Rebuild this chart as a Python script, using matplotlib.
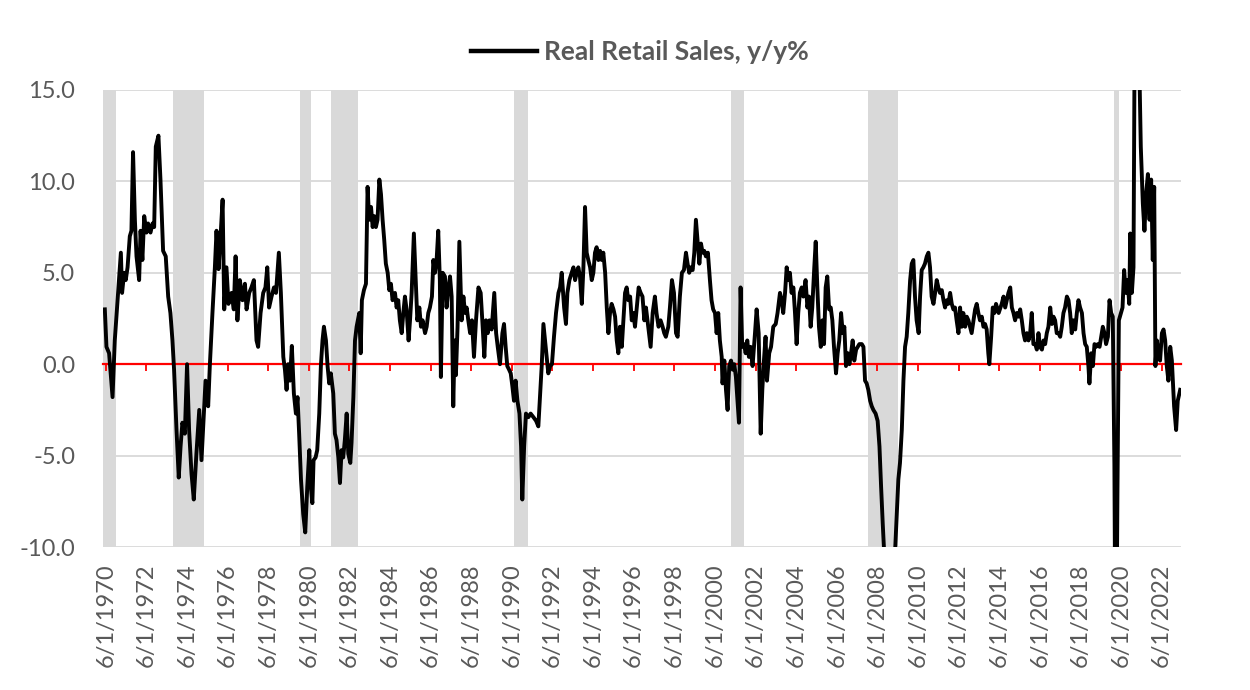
import matplotlib.pyplot as plt
from matplotlib.lines import Line2D

plt.rcParams['font.family'] = ['Lato', 'DejaVu Sans']

# observation dates (decimal years) and real retail sales, y/y %
years = [
    1970.37, 1970.45, 1970.58, 1970.75, 1970.86, 1971.03, 1971.16, 1971.22, 1971.32, 1971.40,
    1971.49, 1971.60, 1971.68, 1971.76, 1971.85, 1971.93, 1972.06, 1972.13, 1972.22, 1972.31,
    1972.42, 1972.50, 1972.62, 1972.72, 1972.80, 1972.88, 1973.01, 1973.11, 1973.24, 1973.37,
    1973.49, 1973.60, 1973.70, 1973.78, 1973.90, 1974.01, 1974.10, 1974.19, 1974.31, 1974.42,
    1974.52, 1974.64, 1974.75, 1974.88, 1975.02, 1975.13, 1975.25, 1975.33, 1975.46, 1975.54,
    1975.67, 1975.79, 1975.87, 1975.97, 1976.07, 1976.17, 1976.25, 1976.36, 1976.46, 1976.61,
    1976.72, 1976.81, 1976.90, 1977.02, 1977.15, 1977.27, 1977.35, 1977.48, 1977.59, 1977.71,
    1977.84, 1977.92, 1978.04, 1978.17, 1978.28, 1978.37, 1978.46, 1978.58, 1978.70, 1978.80,
    1978.94, 1979.04, 1979.16, 1979.24, 1979.32, 1979.40, 1979.49, 1979.58, 1979.68, 1979.78,
    1979.86, 1979.94, 1980.03, 1980.14, 1980.24, 1980.34, 1980.44, 1980.50, 1980.59, 1980.65,
    1980.75, 1980.83, 1980.93, 1981.01, 1981.09, 1981.16, 1981.26, 1981.34, 1981.42, 1981.50,
    1981.62, 1981.70, 1981.78, 1981.87, 1981.95, 1982.03, 1982.11, 1982.19, 1982.28, 1982.36,
    1982.46, 1982.52, 1982.61, 1982.69, 1982.77, 1982.90, 1982.97, 1983.03, 1983.13, 1983.23,
    1983.31, 1983.39, 1983.48, 1983.56, 1983.64, 1983.72, 1983.80, 1983.89, 1983.97, 1984.05,
    1984.13, 1984.21, 1984.30, 1984.38, 1984.46, 1984.54, 1984.66, 1984.74, 1984.82, 1984.90,
    1984.99, 1985.07, 1985.15, 1985.23, 1985.33, 1985.40, 1985.48, 1985.59, 1985.68, 1985.76,
    1985.86, 1985.94, 1986.02, 1986.14, 1986.22, 1986.30, 1986.38, 1986.48, 1986.55, 1986.63,
    1986.71, 1986.79, 1986.87, 1986.92, 1987.01, 1987.12, 1987.20, 1987.28, 1987.37, 1987.45,
    1987.53, 1987.60, 1987.66, 1987.74, 1987.83, 1987.94, 1988.03, 1988.11, 1988.19, 1988.27,
    1988.36, 1988.45, 1988.55, 1988.65, 1988.77, 1988.88, 1988.96, 1989.06, 1989.14, 1989.23,
    1989.31, 1989.42, 1989.55, 1989.64, 1989.72, 1989.83, 1989.95, 1990.03, 1990.11, 1990.19,
    1990.28, 1990.36, 1990.44, 1990.52, 1990.60, 1990.69, 1990.79, 1990.87, 1990.93, 1991.02,
    1991.11, 1991.23, 1991.34, 1991.48, 1991.61, 1991.72, 1991.80, 1991.89, 1991.97, 1992.05,
    1992.13, 1992.21, 1992.30, 1992.39, 1992.49, 1992.59, 1992.71, 1992.79, 1992.87, 1992.99,
    1993.08, 1993.15, 1993.25, 1993.36, 1993.45, 1993.53, 1993.61, 1993.69, 1993.77, 1993.86,
    1993.94, 1994.02, 1994.10, 1994.18, 1994.27, 1994.35, 1994.43, 1994.51, 1994.59, 1994.68,
    1994.76, 1994.84, 1994.92, 1995.01, 1995.09, 1995.17, 1995.25, 1995.33, 1995.42, 1995.50,
    1995.58, 1995.66, 1995.74, 1995.83, 1995.91, 1995.99, 1996.07, 1996.15, 1996.24, 1996.32,
    1996.40, 1996.48, 1996.57, 1996.66, 1996.76, 1996.85, 1996.94, 1997.02, 1997.13, 1997.25,
    1997.35, 1997.46, 1997.54, 1997.64, 1997.74, 1997.84, 1997.92, 1998.00, 1998.12, 1998.20,
    1998.30, 1998.40, 1998.50, 1998.58, 1998.69, 1998.79, 1998.89, 1998.99, 1999.07, 1999.15,
    1999.23, 1999.32, 1999.40, 1999.48, 1999.56, 1999.65, 1999.73, 1999.81, 1999.89, 1999.97,
    2000.07, 2000.17, 2000.25, 2000.33, 2000.42, 2000.50, 2000.58, 2000.66, 2000.75, 2000.79,
    2000.88, 2000.96, 2001.04, 2001.12, 2001.21, 2001.29, 2001.37, 2001.45, 2001.53, 2001.60,
    2001.68, 2001.76, 2001.85, 2001.93, 2002.01, 2002.09, 2002.17, 2002.27, 2002.39, 2002.47,
    2002.57, 2002.67, 2002.75, 2002.83, 2002.91, 2002.98, 2003.09, 2003.18, 2003.29, 2003.41,
    2003.50, 2003.62, 2003.70, 2003.78, 2003.87, 2003.95, 2004.03, 2004.11, 2004.19, 2004.28,
    2004.36, 2004.44, 2004.52, 2004.60, 2004.69, 2004.77, 2004.88, 2004.97, 2005.05, 2005.13,
    2005.21, 2005.31, 2005.38, 2005.46, 2005.54, 2005.63, 2005.71, 2005.79, 2005.87, 2005.95,
    2006.04, 2006.12, 2006.20, 2006.28, 2006.38, 2006.46, 2006.54, 2006.63, 2006.71, 2006.79,
    2006.87, 2006.96, 2007.04, 2007.12, 2007.20, 2007.28, 2007.37, 2007.45, 2007.53, 2007.65,
    2007.73, 2007.81, 2007.89, 2007.97, 2008.06, 2008.14, 2008.22, 2008.33, 2008.43, 2008.52,
    2008.60, 2008.68, 2008.76, 2008.85, 2008.93, 2009.02, 2009.12, 2009.21, 2009.29, 2009.37,
    2009.45, 2009.53, 2009.62, 2009.70, 2009.78, 2009.86, 2009.94, 2010.03, 2010.11, 2010.19,
    2010.27, 2010.35, 2010.45, 2010.52, 2010.60, 2010.68, 2010.76, 2010.85, 2010.93, 2011.01,
    2011.09, 2011.18, 2011.26, 2011.34, 2011.42, 2011.50, 2011.59, 2011.67, 2011.75, 2011.83,
    2011.91, 2012.00, 2012.08, 2012.16, 2012.24, 2012.32, 2012.41, 2012.49, 2012.57, 2012.65,
    2012.74, 2012.82, 2012.90, 2012.98, 2013.06, 2013.15, 2013.23, 2013.31, 2013.39, 2013.47,
    2013.56, 2013.64, 2013.72, 2013.80, 2013.88, 2013.93, 2014.02, 2014.10, 2014.18, 2014.26,
    2014.39, 2014.54, 2014.63, 2014.71, 2014.79, 2014.87, 2014.96, 2015.04, 2015.12, 2015.20,
    2015.28, 2015.37, 2015.45, 2015.53, 2015.61, 2015.69, 2015.78, 2015.86, 2015.94, 2016.02,
    2016.10, 2016.19, 2016.27, 2016.35, 2016.43, 2016.52, 2016.60, 2016.68, 2016.76, 2016.84,
    2016.93, 2017.01, 2017.09, 2017.17, 2017.25, 2017.34, 2017.42, 2017.50, 2017.58, 2017.66,
    2017.75, 2017.83, 2017.91, 2017.99, 2018.07, 2018.16, 2018.24, 2018.32, 2018.40, 2018.49,
    2018.57, 2018.65, 2018.73, 2018.81, 2018.86, 2018.95, 2019.03, 2019.11, 2019.19, 2019.27,
    2019.36, 2019.44, 2019.52, 2019.60, 2019.68, 2019.77, 2019.85, 2019.93, 2020.01, 2020.09,
    2020.16, 2020.24, 2020.31, 2020.41, 2020.49, 2020.57, 2020.65, 2020.74, 2020.82, 2020.87,
    2020.95, 2021.03, 2021.12, 2021.20, 2021.29, 2021.39, 2021.49, 2021.57, 2021.65, 2021.74,
    2021.82, 2021.90, 2021.98, 2022.05, 2022.11, 2022.18, 2022.26, 2022.34, 2022.43, 2022.51,
    2022.59, 2022.67, 2022.75, 2022.84, 2022.92, 2022.97, 2023.03, 2023.13, 2023.21, 2023.33,
]
yoy = [
    3.0, 0.95, 0.6, -1.8, 1.3, 4.0, 6.1, 3.9, 5.0, 4.6,
    5.3, 7.0, 7.3, 11.6, 7.9, 5.9, 4.6, 7.3, 5.7, 8.1,
    7.2, 7.7, 7.2, 7.7, 7.5, 11.9, 12.5, 10.1, 6.2, 5.9,
    3.7, 2.8, 1.3, -0.3, -3.6, -6.2, -4.5, -3.2, -3.8, 0.0,
    -3.6, -6.0, -7.4, -4.9, -2.5, -5.25, -2.7, -0.9, -2.3, -0.1,
    2.8, 5.3, 7.3, 5.2, 7.0, 9.0, 3.0, 5.3, 3.3, 3.9,
    3.0, 5.9, 2.4, 4.6, 3.5, 4.4, 3.0, 3.9, 4.2, 4.6,
    1.3, 0.95, 2.8, 3.9, 4.2, 5.3, 3.1, 3.7, 4.2, 3.9,
    6.1, 3.9, 0.4, -0.3, -1.4, 0.0, -0.9, 1.0, -1.6, -2.7,
    -1.8, -3.8, -6.3, -8.2, -9.2, -6.7, -4.7, -6.5, -7.6, -5.25,
    -5.1, -4.7, -2.7, -0.1, 1.3, 2.05, 1.3, -0.1, -1.05, -0.5,
    -1.6, -3.8, -4.15, -5.1, -6.5, -4.7, -5.1, -4.15, -2.7, -4.9,
    -5.4, -4.3, -1.8, 1.3, 2.05, 2.8, 0.6, 3.5, 4.05, 4.4,
    9.7, 7.9, 8.6, 7.5, 8.1, 7.5, 7.9, 10.1, 9.3, 7.9,
    6.8, 5.5, 5.0, 4.05, 4.4, 3.5, 3.9, 3.1, 3.5, 2.4,
    1.7, 2.8, 3.7, 3.0, 1.3, 2.4, 3.9, 7.15, 4.6, 2.4,
    3.1, 2.05, 2.4, 1.7, 2.05, 2.8, 3.1, 3.7, 5.7, 5.0,
    5.7, 7.3, 4.6, -0.7, 5.0, 4.8, 3.1, 4.05, 4.8, 3.7,
    -2.3, 1.3, -0.6, 2.0, 6.7, 2.4, 3.7, 2.8, 3.1, 2.4,
    1.7, 2.4, 0.4, 2.4, 4.2, 3.9, 2.4, 0.4, 2.4, 1.7,
    2.4, 1.9, 3.9, 1.7, 0.95, 0.0, 1.7, 2.2, 0.95, -0.1,
    -0.3, -0.5, -1.2, -2.0, -0.9, -2.0, -2.7, -4.5, -7.4, -4.5,
    -2.7, -2.9, -2.7, -2.9, -3.1, -3.4, -1.8, 0.0, 2.2, 1.3,
    0.4, -0.5, -0.1, 0.0, 1.5, 2.8, 3.9, 4.2, 5.0, 3.1,
    2.2, 3.9, 4.6, 5.0, 5.3, 4.6, 5.0, 5.3, 4.8, 3.3,
    5.3, 8.6, 6.1, 5.7, 5.3, 4.6, 5.0, 6.1, 6.4, 5.7,
    6.2, 5.7, 6.1, 5.0, 3.1, 1.7, 2.8, 3.3, 3.0, 2.6,
    1.3, 0.6, 2.05, 0.95, 2.4, 3.9, 4.2, 3.5, 3.7, 2.4,
    2.8, 2.05, 3.1, 4.2, 3.9, 3.7, 2.4, 3.1, 2.05, 0.95,
    2.8, 3.7, 2.8, 2.05, 2.4, 2.05, 1.7, 1.5, 2.05, 3.1,
    4.6, 3.9, 1.7, 1.5, 3.7, 5.0, 5.15, 6.1, 5.5, 5.0,
    5.3, 5.15, 6.1, 7.9, 6.8, 5.5, 6.6, 6.1, 6.2, 5.9,
    6.1, 4.6, 3.5, 3.0, 2.8, 1.7, 2.8, 1.3, 0.4, -1.05,
    0.2, -1.4, -2.5, -0.1, 0.2, -0.3, 0.0, -0.7, -2.0, -3.2,
    4.2, 0.95, 1.1, 0.6, 1.3, 0.4, 0.95, -0.1, 1.7, 3.0,
    1.7, -3.8, -1.4, 0.2, 1.5, -0.9, 0.6, 0.95, 2.05, 2.2,
    2.8, 3.9, 3.5, 2.8, 3.9, 5.3, 4.6, 5.0, 3.9, 4.2,
    2.8, 1.1, 2.8, 3.9, 4.2, 3.7, 4.6, 3.1, 3.7, 2.05,
    3.1, 5.3, 6.7, 4.2, 2.05, 0.95, 2.4, 1.1, 4.2, 4.8,
    3.0, 3.1, 2.4, 0.95, -0.5, 0.6, 1.3, 2.8, 1.7, 2.05,
    -0.1, 0.6, 0.0, 0.6, 1.3, 0.2, 0.8, 0.95, 1.1, 1.1,
    0.95, -0.9, -1.05, -1.4, -2.0, -2.3, -2.5, -2.7, -3.1, -4.5,
    -6.7, -8.7, -10.5, -11.5, -12.0, -11.5, -11.0, -10.5, -10.2, -8.2,
    -6.3, -5.4, -3.6, -0.9, 0.95, 1.5, 2.8, 4.6, 5.5, 5.7,
    3.7, 2.4, 1.7, 3.7, 5.15, 5.3, 5.5, 5.9, 6.1, 5.3,
    3.7, 3.3, 3.9, 4.6, 4.2, 3.9, 4.05, 3.5, 3.1, 3.5,
    3.3, 3.9, 3.3, 3.0, 3.1, 2.4, 1.7, 3.1, 2.05, 2.8,
    2.05, 2.6, 2.4, 2.05, 1.7, 2.4, 3.0, 3.3, 2.8, 2.4,
    2.6, 2.05, 2.2, 1.9, 0.6, 0.0, 1.5, 3.1, 2.8, 3.3,
    2.8, 3.3, 3.7, 3.1, 3.5, 3.9, 4.2, 3.1, 2.8, 2.4,
    2.8, 2.6, 3.0, 2.4, 1.7, 1.3, 1.7, 1.3, 1.7, 2.8,
    1.1, 1.1, 0.8, 1.7, 0.95, 0.8, 1.3, 1.1, 1.7, 2.05,
    3.1, 2.2, 2.6, 2.4, 1.7, 1.7, 1.5, 2.05, 2.8, 3.1,
    3.7, 3.5, 2.8, 1.7, 2.4, 1.9, 2.8, 3.5, 3.1, 2.8,
    1.7, 1.1, 0.95, -0.1, -1.05, 0.6, -0.1, 1.1, 0.95, 1.1,
    0.95, 1.5, 2.05, 1.7, 1.1, 1.5, 3.5, 2.8, 2.6, -5.5,
    -20.0, -7.0, 2.4, 2.8, 3.1, 5.15, 3.9, 4.6, 3.3, 7.15,
    3.9, 5.3, 25.0, 38.0, 18.0, 11.9, 8.8, 7.3, 9.3, 10.4,
    7.9, 10.1, 5.7, 9.7, -0.1, 1.3, 0.6, 0.2, 1.7, 1.9,
    1.3, -0.1, -0.9, 0.95, 0.2, -0.9, -2.3, -3.6, -2.0, -1.4,
]

# recessions (shaded)
rec_start = [1969.95, 1973.75, 1979.98, 1981.50, 1990.54, 2001.21, 2007.97, 2020.08]
rec_end = [1970.91, 1975.25, 1980.50, 1982.85, 1991.23, 2001.85, 2009.45, 2020.34]

label_years = list(range(1970, 2023, 2))
tick_pos = [y + 5 / 12 for y in label_years]
tick_labels = ['6/1/%d' % y for y in label_years]
y_ticks = [-10, -5, 0, 5, 10, 15]

grey_txt = '#595959'

fig = plt.figure(figsize=(12.5, 6.9), dpi=100)
ax = fig.add_axes([0.0824, 0.2072, 0.8624, 0.6624])

for s, e in zip(rec_start, rec_end):
    ax.axvspan(s, e, color='#d9d9d9', lw=0, zorder=0)

line, = ax.plot(years, yoy, color='black', lw=2.8, zorder=3,
                solid_joinstyle='round')

ax.set_xlim(1970.28, 2023.37)
ax.set_ylim(-10, 15)

# y axis
ax.set_yticks(y_ticks)
ax.set_yticklabels(['%.1f' % v for v in y_ticks])
ax.tick_params(axis='y', length=0, pad=20, labelsize=17, labelcolor=grey_txt)
ax.grid(axis='y', color='#d9d9d9', lw=1.3, zorder=1)
ax.set_axisbelow(True)

for side in ['left', 'right', 'top']:
    ax.spines[side].set_visible(False)

# red horizontal axis through zero with small ticks
ax.spines['bottom'].set_position(('data', 0))
ax.spines['bottom'].set_color('red')
ax.spines['bottom'].set_linewidth(1.6)
ax.spines['bottom'].set_zorder(2)
ax.set_xticks(tick_pos)
ax.tick_params(axis='x', color='red', length=5, width=1.3, labelbottom=False)

# date labels along the bottom edge
sec = ax.secondary_xaxis('bottom')
sec.set_xticks(tick_pos)
sec.set_xticklabels(tick_labels)
sec.tick_params(length=0, pad=12, labelsize=17, labelcolor=grey_txt, labelrotation=90)
sec.spines['bottom'].set_visible(False)

# legend
handle = Line2D([], [], color='black', lw=3.2)
fig.legend([handle], ['Real Retail Sales, y/y%'], loc='center',
           bbox_to_anchor=(0.512, 0.925), frameon=False, handlelength=2.5,
           handletextpad=0.25, prop={'weight': 'bold', 'size': 19},
           labelcolor=grey_txt)

fig.savefig('out.png', dpi=100, facecolor='white')
